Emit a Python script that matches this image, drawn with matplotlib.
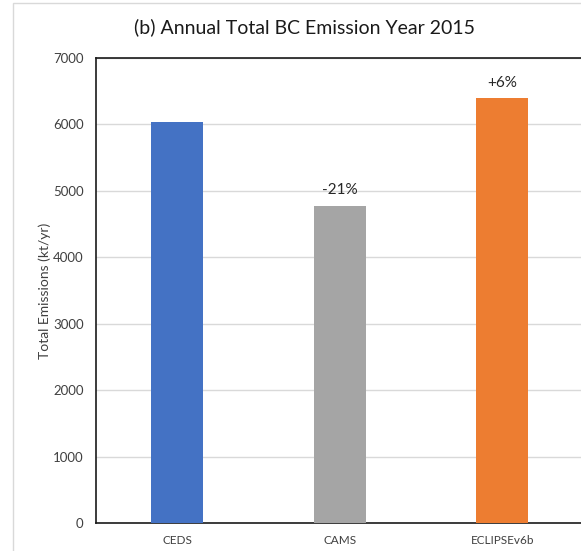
import matplotlib
matplotlib.use("Agg")
import matplotlib.pyplot as plt
from matplotlib.patches import Rectangle

categories = ["CEDS", "CAMS", "ECLIPSEv6b"]
emissions = [6030, 4775, 6400]
bar_colors = ["#4472C4", "#A5A5A5", "#ED7D31"]
change_labels = [None, "-21%", "+6%"]
yticks = [0, 1000, 2000, 3000, 4000, 5000, 6000, 7000]

plt.rcParams["font.family"] = ["Lato", "DejaVu Sans"]

fig = plt.figure(figsize=(5.81, 5.51), dpi=100)
fig.patches.append(Rectangle((13 / 581, -0.1), 1.2, 1 - 3 / 551 + 0.1,
                             transform=fig.transFigure, fill=False,
                             edgecolor="#D9D9D9", linewidth=1.0, zorder=0))

ax = fig.add_axes([96 / 581, 28 / 551, 487.5 / 581, 465 / 551])
x = range(len(categories))
bars = ax.bar(x, emissions, width=0.32, color=bar_colors, zorder=3)

for rect, lab in zip(bars, change_labels):
    if lab:
        ax.annotate(lab, (rect.get_x() + rect.get_width() / 2, rect.get_height()),
                    xytext=(0, 6), textcoords="offset points",
                    ha="center", va="bottom", fontsize=11, color="#262626")

ax.set_xlim(-0.5, 2.5)
ax.set_ylim(0, 7000)
ax.set_yticks(yticks)
ax.set_xticks(list(x))
ax.set_xticklabels(categories)
ax.tick_params(axis="y", length=0, labelsize=9.5, colors="#404040", pad=9)
ax.tick_params(axis="x", length=0, labelsize=8.5, colors="#404040", pad=9)
ax.yaxis.grid(True, color="#D9D9D9", linewidth=1.0, zorder=0)
ax.set_axisbelow(True)
for side in ["left", "bottom", "top", "right"]:
    ax.spines[side].set_color("#1a1a1a")
    ax.spines[side].set_linewidth(1.2)
ax.set_ylabel("Total Emissions (kt/yr)", fontsize=10, color="#404040",
              va="center")
ax.yaxis.set_label_coords(-51 / 487.5, 0.5)

fig.text(305 / 581, 1 - 27 / 551, "(b) Annual Total BC Emission Year 2015",
         ha="center", va="center", fontsize=14, color="#1a1a1a")

fig.savefig("out.png", dpi=100)
